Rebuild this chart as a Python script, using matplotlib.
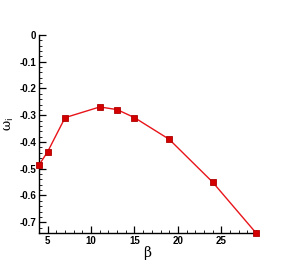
import matplotlib
matplotlib.use("Agg")
import matplotlib.pyplot as plt
from matplotlib.ticker import MultipleLocator

plt.rcParams['font.family'] = ['Liberation Sans', 'DejaVu Sans']

# values
beta = [4, 5, 7, 11, 13, 15, 19, 24, 29]
omega_i = [-0.486, -0.436, -0.309, -0.269, -0.279, -0.309, -0.39, -0.55, -0.74]

fig = plt.figure(figsize=(2.87, 2.65), dpi=100)
ax = fig.add_axes([0.136, 0.121, 0.756, 0.747])

ax.plot(beta, omega_i, color='#e8141a', linewidth=1.0, marker='s', markersize=4.8,
        markerfacecolor='#d40000', markeredgecolor='#b00000', markeredgewidth=0.6,
        clip_on=False, zorder=3)

ax.set_xlim(4, 29)
ax.set_ylim(-0.74, 0)
ax.xaxis.set_major_locator(MultipleLocator(5))
ax.xaxis.set_minor_locator(MultipleLocator(1))
ax.yaxis.set_major_locator(MultipleLocator(0.1))
ax.yaxis.set_minor_locator(MultipleLocator(0.02))

ax.spines['top'].set_visible(False)
ax.spines['right'].set_visible(False)
for s in ['left', 'bottom']:
    ax.spines[s].set_linewidth(1.0)

ax.tick_params(which='major', direction='in', length=5, width=0.9, labelsize=7, pad=2)
ax.tick_params(which='minor', direction='in', length=2.5, width=0.6)

ax.set_yticks([0, -0.1, -0.2, -0.3, -0.4, -0.5, -0.6, -0.7])
ax.set_yticklabels(['0', '-0.1', '-0.2', '-0.3', '-0.4', '-0.5', '-0.6', '-0.7'])
for lbl in ax.get_xticklabels() + ax.get_yticklabels():
    lbl.set_fontweight('bold')

ax.set_xlabel('\u03b2', fontsize=10, labelpad=0, family=['DejaVu Serif'])
ax.set_ylabel('\u03c9$_\\mathrm{i}$', fontsize=9, family=['DejaVu Serif'], va='center')
ax.yaxis.set_label_coords(-0.135, 0.55)

fig.savefig("out.png", dpi=100)
